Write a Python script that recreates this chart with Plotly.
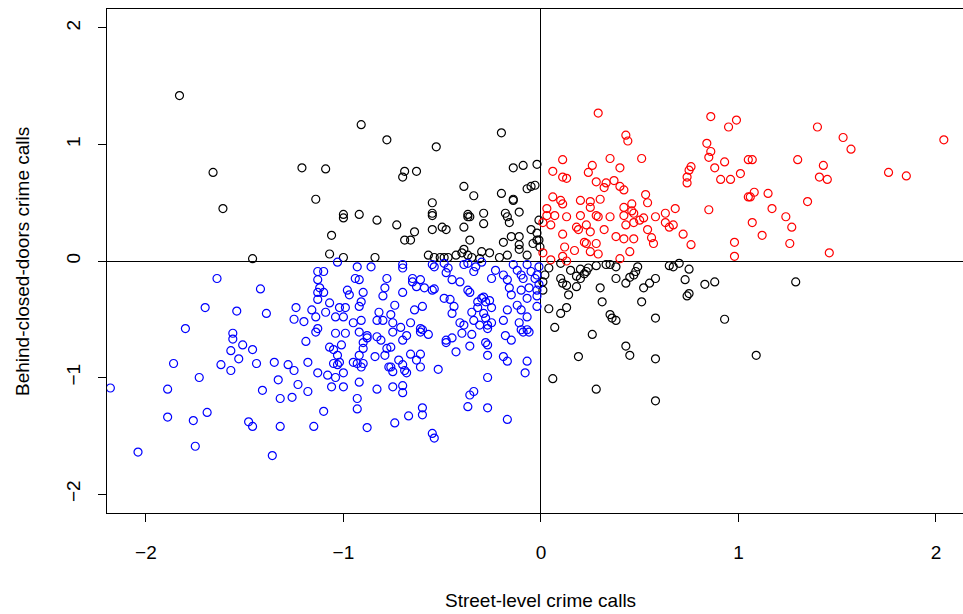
import plotly.graph_objects as go

# ---- data ----
red_x = [0.29,0.86,0.99,0.95,0.43,0.44,0.84,0.86,0.85,0.11,0.35,0.51,0.93,1.05,0.06,0.26,0.24,0.40,0.11,0.13,
         0.76,0.75,0.88,0.74,0.74,0.91,0.96,1.01,0.28,0.33,0.37,0.32,0.40,0.42,0.53,0.54,0.06,0.10,0.11,0.20,
         0.25,0.25,0.30,0.03,0.42,0.46,0.46,0.68,0.85,1.05,
         1.40,1.53,1.57,2.04,1.30,1.07,1.43,1.41,1.45,1.76,1.85,1.08,1.06,1.15,1.35,1.17,1.24,1.27,1.07,1.12,1.26,1.46,
         0.03,0.07,0.13,0.20,0.28,0.29,0.35,0.42,0.47,0.52,0.58,0.63,0.05,0.01,0.11,0.18,0.19,0.23,0.25,0.32,
         0.43,0.47,0.50,0.54,0.63,0.65,0.67,0.72,0.56,0.57,0.38,0.42,0.47,0.22,0.23,0.28,0.12,0.17,0.25,0.29,
         0.45,0.40,0.01,0.05,0.11,0.13,0.76,0.98,0.98]
red_y = [1.27,1.24,1.21,1.15,1.08,1.03,1.01,0.94,0.89,0.87,0.88,0.88,0.85,0.87,0.77,0.82,0.76,0.80,0.72,0.71,
         0.81,0.78,0.80,0.72,0.67,0.70,0.70,0.75,0.68,0.67,0.69,0.63,0.64,0.61,0.57,0.50,0.55,0.52,0.49,0.52,
         0.51,0.46,0.53,0.45,0.46,0.49,0.43,0.45,0.44,0.55,
         1.15,1.06,0.96,1.04,0.87,0.87,0.82,0.72,0.70,0.76,0.73,0.59,0.55,0.58,0.51,0.45,0.38,0.29,0.33,0.22,0.15,0.07,
         0.39,0.39,0.38,0.39,0.39,0.38,0.38,0.39,0.41,0.37,0.38,0.41,0.31,0.33,0.23,0.29,0.27,0.31,0.25,0.27,
         0.31,0.33,0.35,0.27,0.33,0.29,0.31,0.23,0.20,0.15,0.21,0.19,0.19,0.16,0.15,0.15,0.12,0.09,0.08,0.06,
         0.08,0.02,0.07,0.01,0.04,0.00,0.14,0.16,0.04]

black_x = [-1.83,-1.66,-1.21,-1.14,-1.61,-1.46,-0.91,-0.78,-0.53,-0.20,-1.09,-0.69,-0.70,-0.63,-0.14,-0.09,-0.02,
           -0.39,-0.34,-0.20,-0.14,-0.14,-0.07,-0.05,-0.03,-0.55,-0.55,-0.37,-0.29,-0.18,-0.11,-0.92,-1.00,
           -1.00,-0.83,-0.73,-1.06,-0.64,-0.69,-0.66,-0.55,-0.55,-0.50,-0.48,-0.39,-0.37,-0.36,-0.29,-0.17,-0.16,
           -0.05,-0.02,-0.36,-0.19,-0.15,-0.11,-0.11,-0.11,-0.39,-0.40,-0.30,-0.26,-0.21,-0.17,-0.07,-1.07,-1.00,
           -0.84,-0.57,-0.54,-0.51,-0.49,-0.47,-0.43,-0.37,-0.35,-0.31,-0.04,-0.02,-0.01,-0.01,-0.005,
           0.10,0.15,0.20,0.24,0.23,0.28,0.33,0.35,0.38,0.49,0.48,0.47,0.45,0.65,0.67,0.70,0.75,0.04,0.02,0.01,
           0.01,0.10,0.11,0.13,0.18,0.18,0.20,0.22,0.38,0.43,0.55,0.58,0.52,0.73,0.83,0.88,0.30,0.14,0.31,0.51,
           0.04,0.13,0.10,0.35,0.36,0.38,0.58,0.93,0.07,0.26,0.74,0.75,0.43,0.45,0.19,0.58,0.06,0.28,0.58,1.09,1.29]
black_y = [1.42,0.76,0.80,0.53,0.45,0.02,1.17,1.04,0.98,1.10,0.79,0.77,0.72,0.77,0.80,0.82,0.83,
           0.64,0.56,0.58,0.53,0.52,0.62,0.64,0.65,0.50,0.41,0.40,0.41,0.41,0.42,0.40,0.40,
           0.37,0.35,0.31,0.22,0.25,0.18,0.18,0.27,0.39,0.29,0.27,0.29,0.38,0.38,0.32,0.38,0.33,
           0.27,0.24,0.18,0.16,0.21,0.21,0.14,0.10,0.10,0.07,0.08,0.07,0.03,0.05,0.05,0.06,0.03,
           0.03,0.05,0.03,0.03,0.03,0.03,0.05,0.05,0.03,0.02,0.15,0.18,0.35,0.18,0.12,
           -0.02,-0.08,-0.07,-0.06,-0.09,-0.04,-0.03,-0.03,-0.05,-0.05,-0.09,-0.12,-0.14,-0.04,-0.05,-0.02,-0.07,-0.06,-0.12,-0.18,
           -0.25,-0.15,-0.19,-0.21,-0.22,-0.13,-0.15,-0.11,-0.15,-0.19,-0.19,-0.15,-0.23,-0.16,-0.20,-0.18,-0.23,-0.29,-0.35,-0.35,
           -0.41,-0.40,-0.45,-0.46,-0.49,-0.51,-0.49,-0.50,-0.57,-0.63,-0.30,-0.28,-0.73,-0.81,-0.82,-0.84,-1.01,-1.10,-1.20,-0.81,-0.18]

blue_x = [-1.64,-1.42,-1.70,-1.54,-1.39,-1.24,-1.25,-1.20,-1.16,-1.14,-1.80,-1.56,-1.13,-1.13,-1.13,-1.13,-1.13,
          -1.56,-1.51,-1.46,-1.57,-1.53,-1.62,-1.57,-1.86,-1.44,-1.73,-2.18,-1.89,-1.35,-1.28,-1.25,-1.18,-1.19,
          -1.13,-1.14,-1.33,-1.23,-1.18,-1.26,-1.32,-1.41,-1.89,-1.76,-1.69,-1.48,-1.46,-1.32,-1.15,-1.75,-2.04,-1.36,
          -1.10,-1.03,-0.93,-0.86,-0.70,-0.70,-0.55,-0.54,-0.49,-0.47,-0.39,-0.37,-0.33,-0.34,-0.30,-0.23,-0.19,
          -0.14,-0.12,-0.10,-0.07,-0.05,-0.09,-0.03,-0.94,-0.92,-0.98,-0.97,-0.90,-0.78,-0.79,-0.80,-0.65,-0.61,
          -0.65,-0.63,-0.59,-0.55,-0.54,-0.48,-0.45,-0.41,-0.49,-0.46,-0.37,-0.36,-0.32,-0.30,-0.29,-0.28,-0.26,
          -0.25,-0.17,-0.16,-0.15,-0.10,-0.07,-0.06,-0.02,-1.12,-1.10,-1.07,-1.02,-0.99,-0.91,-0.92,-0.82,-0.70,
          -0.74,-0.64,-0.60,-0.44,-0.45,-0.35,-0.32,-0.29,-0.28,-0.25,-0.17,-0.12,-0.10,-0.07,-0.02,-1.09,-1.04,
          -1.00,-0.95,-0.91,-0.83,-0.80,-0.76,-0.75,-0.71,-0.66,-0.61,-0.60,-0.41,-0.39,-0.34,-0.31,-0.27,-0.27,
          -0.25,-0.19,-0.11,-0.10,-0.07,
          -1.04,-0.99,-0.92,-0.88,-0.88,-0.83,-0.81,-0.75,-0.68,-0.70,-0.61,-0.57,-0.48,-0.48,-0.45,-0.40,-0.35,
          -0.28,-0.27,-0.18,-0.15,-0.09,-0.06,-1.07,-1.05,-1.01,-0.90,-0.90,-0.76,-0.78,-0.79,-0.84,-0.92,-0.93,
          -0.90,-0.91,-0.95,-1.03,-1.02,-1.03,-1.05,-0.76,-0.72,-0.70,-0.69,-0.68,-0.75,-0.77,-0.66,-0.61,-0.63,
          -0.61,-0.43,-0.36,-0.27,-0.19,-0.17,-0.07,-0.08,-1.08,-1.04,-1.00,-0.92,-1.06,-1.00,-0.83,-0.75,-0.70,
          -0.70,-0.52,-0.27,-0.36,-0.34,-0.93,-0.93,-1.10,-0.67,-0.60,-0.60,-0.74,-0.88,-0.37,-0.27,-0.17,-0.55,-0.54,
          -0.01,-0.02,-0.01,-0.02]
blue_y = [-0.15,-0.24,-0.40,-0.43,-0.45,-0.40,-0.50,-0.52,-0.42,-0.48,-0.58,-0.62,-0.09,-0.16,-0.27,-0.33,-0.58,
          -0.67,-0.72,-0.76,-0.77,-0.84,-0.89,-0.94,-0.88,-0.88,-1.00,-1.09,-1.10,-0.87,-0.89,-0.94,-0.87,-0.69,
          -0.96,-0.61,-1.02,-1.06,-1.12,-1.17,-1.18,-1.11,-1.34,-1.37,-1.30,-1.38,-1.42,-1.42,-1.42,-1.59,-1.64,-1.67,
          -0.09,-0.01,-0.05,-0.05,-0.03,-0.06,-0.03,-0.05,-0.02,-0.06,-0.03,-0.02,-0.05,-0.09,-0.01,-0.08,-0.12,
          -0.03,-0.08,-0.12,-0.03,-0.09,-0.15,-0.15,-0.15,-0.16,-0.25,-0.29,-0.27,-0.15,-0.23,-0.30,-0.15,-0.16,
          -0.18,-0.22,-0.23,-0.25,-0.24,-0.10,-0.16,-0.18,-0.32,-0.33,-0.25,-0.27,-0.35,-0.32,-0.31,-0.35,-0.34,
          -0.15,-0.16,-0.23,-0.29,-0.25,-0.32,-0.23,-0.25,-0.23,-0.27,-0.36,-0.40,-0.40,-0.35,-0.39,-0.44,-0.27,
          -0.38,-0.42,-0.39,-0.39,-0.45,-0.44,-0.40,-0.45,-0.49,-0.40,-0.42,-0.38,-0.42,-0.48,-0.39,-0.44,-0.48,
          -0.48,-0.53,-0.51,-0.51,-0.51,-0.46,-0.53,-0.57,-0.53,-0.58,-0.59,-0.53,-0.55,-0.51,-0.55,-0.55,-0.58,
          -0.53,-0.51,-0.53,-0.59,-0.59,
          -0.62,-0.62,-0.61,-0.64,-0.66,-0.65,-0.68,-0.61,-0.64,-0.68,-0.61,-0.63,-0.68,-0.70,-0.66,-0.62,-0.63,
          -0.70,-0.72,-0.64,-0.68,-0.61,-0.61,-0.74,-0.76,-0.72,-0.70,-0.75,-0.74,-0.75,-0.81,-0.82,-0.81,-0.88,
          -0.88,-0.91,-0.87,-0.81,-0.87,-0.89,-0.88,-0.91,-0.85,-0.89,-0.94,-0.96,-0.95,-0.91,-0.80,-0.80,-0.85,
          -0.91,-0.78,-0.73,-0.81,-0.82,-0.86,-0.86,-0.96,-0.98,-1.00,-0.96,-1.04,-1.08,-1.08,-1.10,-1.08,-1.07,
          -1.13,-0.93,-1.00,-1.15,-1.12,-1.18,-1.27,-1.29,-1.33,-1.26,-1.32,-1.39,-1.43,-1.25,-1.26,-1.36,-1.48,-1.52,
          -0.05,-0.12,-0.20,-0.30]

x_ticks = [-2, -1, 0, 1, 2]
y_ticks = [-2, -1, 0, 1, 2]
x_title = "Street-level crime calls"
y_title = "Behind-closed-doors crime calls"

FONT = "Liberation Sans, Arial, sans-serif"

fig = go.Figure()

def add(xs, ys, color):
    fig.add_trace(go.Scatter(
        x=xs, y=ys, mode="markers",
        marker=dict(symbol="circle-open", size=8, color=color, line=dict(width=1.2, color=color)),
        showlegend=False, hoverinfo="skip"))

add(black_x, black_y, "#000000")
add(blue_x, blue_y, "#0000FF")
add(red_x, red_y, "#FF0000")

fig.update_layout(
    width=963, height=614,
    margin=dict(l=107, r=0, t=9, b=101, autoexpand=False),
    paper_bgcolor="white", plot_bgcolor="white",
    font=dict(family=FONT, size=19, color="#000000"),
    xaxis=dict(
        range=[-2.197, 2.137], tickvals=x_ticks, ticks="outside", ticklen=8, tickwidth=1,
        tickcolor="#000000", showgrid=False, showline=True, linecolor="#000000", linewidth=1.3,
        mirror=True, zeroline=True, zerolinecolor="#000000", zerolinewidth=1.3,
        ticklabelstandoff=14, automargin=False,
    ),
    yaxis=dict(
        range=[-2.163, 2.163], tickvals=y_ticks, ticks="outside", ticklen=8, tickwidth=1,
        tickcolor="#000000", showgrid=False, showline=True, linecolor="#000000", linewidth=1.3,
        zeroline=True, zerolinecolor="#000000", zerolinewidth=1.3,
        tickangle=-90, ticklabelstandoff=10, automargin=False,
    ),
    annotations=[
        dict(text=x_title, xref="paper", yref="paper", x=0.506, y=-0.173,
             xanchor="center", yanchor="middle", showarrow=False, font=dict(size=19)),
        dict(text=y_title, xref="paper", yref="paper", x=-0.0993, y=0.5, textangle=-90,
             xanchor="center", yanchor="middle", showarrow=False, font=dict(size=19)),
    ],
)

fig.write_html("out.html", config={"displayModeBar": False},
               post_script="document.body.style.margin='0px';")
